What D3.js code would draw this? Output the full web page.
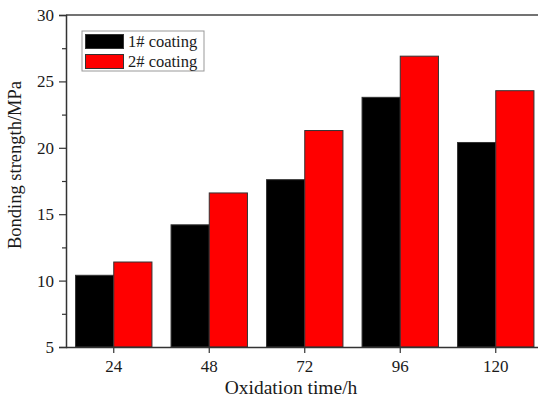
<!DOCTYPE html>
<html>
<head>
<meta charset="utf-8">
<script src="https://cdn.jsdelivr.net/npm/d3@7"></script>
<style>
  html, body { margin: 0; padding: 0; background: #fff; }
  svg { display: block; }
  text { font-family: "Liberation Serif", "Times New Roman", serif; fill: #1a1a1a; }
</style>
</head>
<body>
<svg id="chart" width="538" height="399"></svg>
<script>
const categories = ["24", "48", "72", "96", "120"];
const seriesNames = ["1# coating", "2# coating"];
const coating1 = [10.4, 14.2, 17.6, 23.8, 20.4];
const coating2 = [11.4, 16.6, 21.3, 26.9, 24.3];
const yTicks = [5, 10, 15, 20, 25, 30];
const yMinorTicks = [7.5, 12.5, 17.5, 22.5, 27.5];
const colors = ["#000000", "#ff0000"];

(function () {
const svg = d3.select("#chart");
const mLeft = 66, mTop = 15, mBottom = 347;
const mRight = 66 + 5 * 95.5;

const x = d3.scaleBand().domain(categories).range([mLeft, mRight]).padding(0);
const y = d3.scaleLinear().domain([5, 30]).range([mBottom, mTop]);
const barW = x.bandwidth() * 0.4;

// bars
const series = [coating1, coating2];
series.forEach((vals, si) => {
  svg.append("g").selectAll("rect")
    .data(vals)
    .join("rect")
    .attr("x", (d, i) => x(categories[i]) + x.bandwidth() / 2 + (si === 0 ? -barW : 0))
    .attr("y", d => y(d))
    .attr("width", barW)
    .attr("height", d => y(5) - y(d))
    .attr("fill", colors[si])
    .attr("stroke", "#333")
    .attr("stroke-width", 1);
});

// frame top line
svg.append("line")
  .attr("x1", mLeft).attr("x2", 540)
  .attr("y1", mTop).attr("y2", mTop)
  .attr("stroke", "#444").attr("stroke-width", 1.5);

// y axis
const yAxis = svg.append("g").attr("transform", `translate(${mLeft},0)`)
  .call(d3.axisLeft(y).tickValues(yTicks).tickSize(7).tickPadding(5).tickFormat(d3.format("d")));
yAxis.select(".domain").attr("stroke", "#333").attr("stroke-width", 1.5);
yAxis.selectAll(".tick line").attr("stroke", "#333").attr("stroke-width", 1.2);
yAxis.selectAll("text").style("font-size", "17px").attr("fill", "#1a1a1a");

const yMinor = svg.append("g").attr("transform", `translate(${mLeft},0)`)
  .call(d3.axisLeft(y).tickValues(yMinorTicks).tickSize(4).tickFormat(""));
yMinor.select(".domain").remove();
yMinor.selectAll(".tick line").attr("stroke", "#333").attr("stroke-width", 1.2);

// x axis
const xAxis = svg.append("g").attr("transform", `translate(0,${mBottom})`)
  .call(d3.axisBottom(x).tickSize(6).tickPadding(7).tickSizeOuter(0));
xAxis.select(".domain").attr("stroke", "#333").attr("stroke-width", 1.5)
  .attr("d", `M${mLeft},0.5H540`);
xAxis.selectAll(".tick line").attr("stroke", "#333").attr("stroke-width", 1.2);
xAxis.selectAll("text").style("font-size", "17px").attr("fill", "#1a1a1a");

// axis titles
svg.append("text")
  .attr("x", 291).attr("y", 394)
  .attr("text-anchor", "middle")
  .style("font-size", "19.5px")
  .text("Oxidation time/h");

svg.append("text")
  .attr("transform", `translate(21,165) rotate(-90)`)
  .attr("text-anchor", "middle")
  .style("font-size", "18.5px")
  .text("Bonding strength/MPa");

// legend
const lg = svg.append("g");
lg.append("rect")
  .attr("x", 82).attr("y", 31).attr("width", 122).attr("height", 40)
  .attr("fill", "#fff").attr("stroke", "#999").attr("stroke-width", 1);
seriesNames.forEach((name, i) => {
  const yy = 34.5 + i * 20;
  lg.append("rect")
    .attr("x", 85.5).attr("y", yy).attr("width", 38).attr("height", 14)
    .attr("fill", colors[i]).attr("stroke", "#333").attr("stroke-width", 1);
  lg.append("text")
    .attr("x", 128).attr("y", yy + 12)
    .style("font-size", "16.5px")
    .text(name);
});
})();
</script>
</body>
</html>
